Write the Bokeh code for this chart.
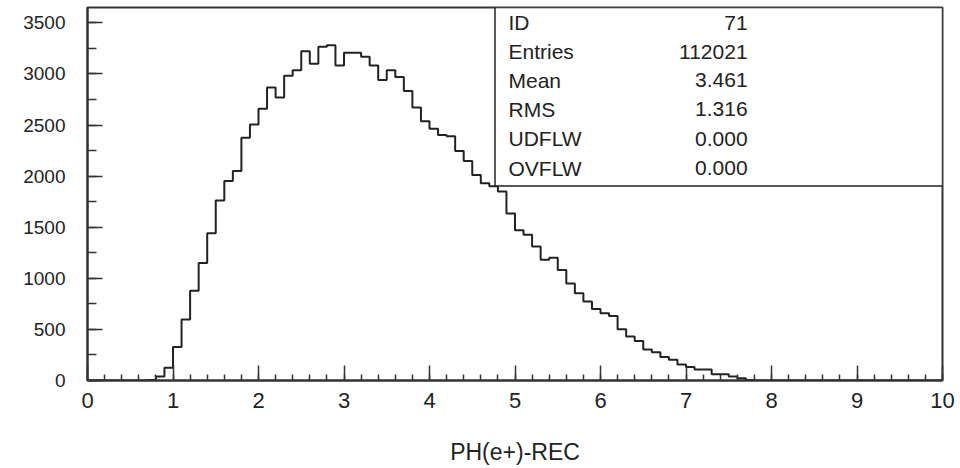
import numpy as np
from bokeh.plotting import figure
from bokeh.models import Range1d, SingleIntervalTicker, ColumnDataSource
from bokeh.core.properties import value
from bokeh.embed import file_html
from bokeh.resources import INLINE

# ---------------- data ----------------
bin_low = 0.0
bin_width = 0.1
# counts per 0.1-wide bin, bins 0.0 .. 9.9
counts = ([0] * 7 +
          [5, 39, 124, 329, 596, 879, 1149, 1442, 1761, 1953,
           2051, 2376, 2505, 2659, 2868, 2770, 2982, 3037, 3223, 3099,
           3265, 3281, 3083, 3206, 3206, 3167, 3083, 2940, 3037, 2969,
           2832, 2672, 2536, 2464, 2402, 2389, 2246, 2148, 2010, 1930,
           1900, 1850, 1634, 1471, 1426, 1312, 1182, 1201, 1081, 950,
           853, 772, 700, 657, 631, 501, 430, 387, 303, 277,
           231, 202, 156, 133, 107, 107, 62, 62, 39, 23,
           6] +
          [0] * 22)
stat_names = ["ID", "Entries", "Mean", "RMS", "UDFLW", "OVFLW"]
stat_values = ["71", "112021", "3.461", "1.316", "0.000", "0.000"]
x_label = "PH(e+)-REC"

# ---------------- layout constants ----------------
X_MIN, X_MAX = 0, 10
Y_MIN, Y_MAX = 0, 3650
BOX_LEFT, BOX_BOTTOM = 4.766, 1903
NAME_X, VALUE_X = 4.924, 7.72
ROW_Y = [3503, 3219, 2936, 2652, 2368, 2075]
FONT = "Liberation Sans"
INK = "#222222"

edges = bin_low + bin_width * np.arange(len(counts) + 1)
step_y = list(counts) + [counts[-1]]

p = figure(width=960, height=468, output_backend="svg", toolbar_location=None,
           x_range=Range1d(X_MIN, X_MAX), y_range=Range1d(Y_MIN, Y_MAX),
           min_border_left=87, min_border_right=18, min_border_top=7,
           min_border_bottom=88, background_fill_color="white",
           border_fill_color="white")

p.xgrid.visible = False
p.ygrid.visible = False
p.outline_line_color = "#333333"
p.outline_line_width = 2
p.outline_line_alpha = 1

p.step(edges, step_y, mode="after", line_color=INK, line_width=2)

# statistics box
p.quad(left=[BOX_LEFT], right=[X_MAX], bottom=[BOX_BOTTOM], top=[Y_MAX],
       fill_color="white", line_color=INK, line_width=1.5)
src = ColumnDataSource(dict(x1=[NAME_X] * len(stat_names), x2=[VALUE_X] * len(stat_names),
                            y=ROW_Y, n=stat_names, v=stat_values))
p.text(x="x1", y="y", text="n", source=src, text_font=value(FONT),
       text_font_size="21px", text_color=INK, text_baseline="middle", text_align="left")
p.text(x="x2", y="y", text="v", source=src, text_font=value(FONT),
       text_font_size="21px", text_color=INK, text_baseline="middle", text_align="right")

# axes
xa = p.xaxis[0]
xa.ticker = SingleIntervalTicker(interval=1, num_minor_ticks=5)
xa.major_tick_in = 15
xa.major_tick_out = 0
xa.minor_tick_in = 6
xa.minor_tick_out = 0
xa.axis_line_color = "#333333"
xa.axis_line_width = 2
xa.major_tick_line_color = "#333333"
xa.major_tick_line_width = 1.5
xa.minor_tick_line_color = "#333333"
xa.minor_tick_line_width = 1.5
xa.major_label_text_font = FONT
xa.major_label_text_font_size = "22px"
xa.major_label_text_color = INK
xa.major_label_standoff = 12
xa.axis_label = x_label
xa.axis_label_text_font = FONT
xa.axis_label_text_font_size = "23px"
xa.axis_label_text_font_style = "normal"
xa.axis_label_text_color = INK
xa.axis_label_standoff = 28

ya = p.yaxis[0]
ya.ticker = SingleIntervalTicker(interval=500, num_minor_ticks=2)
ya.major_tick_in = 15
ya.major_tick_out = 0
ya.minor_tick_in = 9
ya.minor_tick_out = 0
ya.axis_line_color = "#333333"
ya.axis_line_width = 2
ya.major_tick_line_color = "#333333"
ya.major_tick_line_width = 1.5
ya.minor_tick_line_color = "#333333"
ya.minor_tick_line_width = 1.5
ya.major_label_text_font = FONT
ya.major_label_text_font_size = "19px"
ya.major_label_text_color = INK
ya.major_label_standoff = 22

open("out.html", "w").write(file_html(p, INLINE))
